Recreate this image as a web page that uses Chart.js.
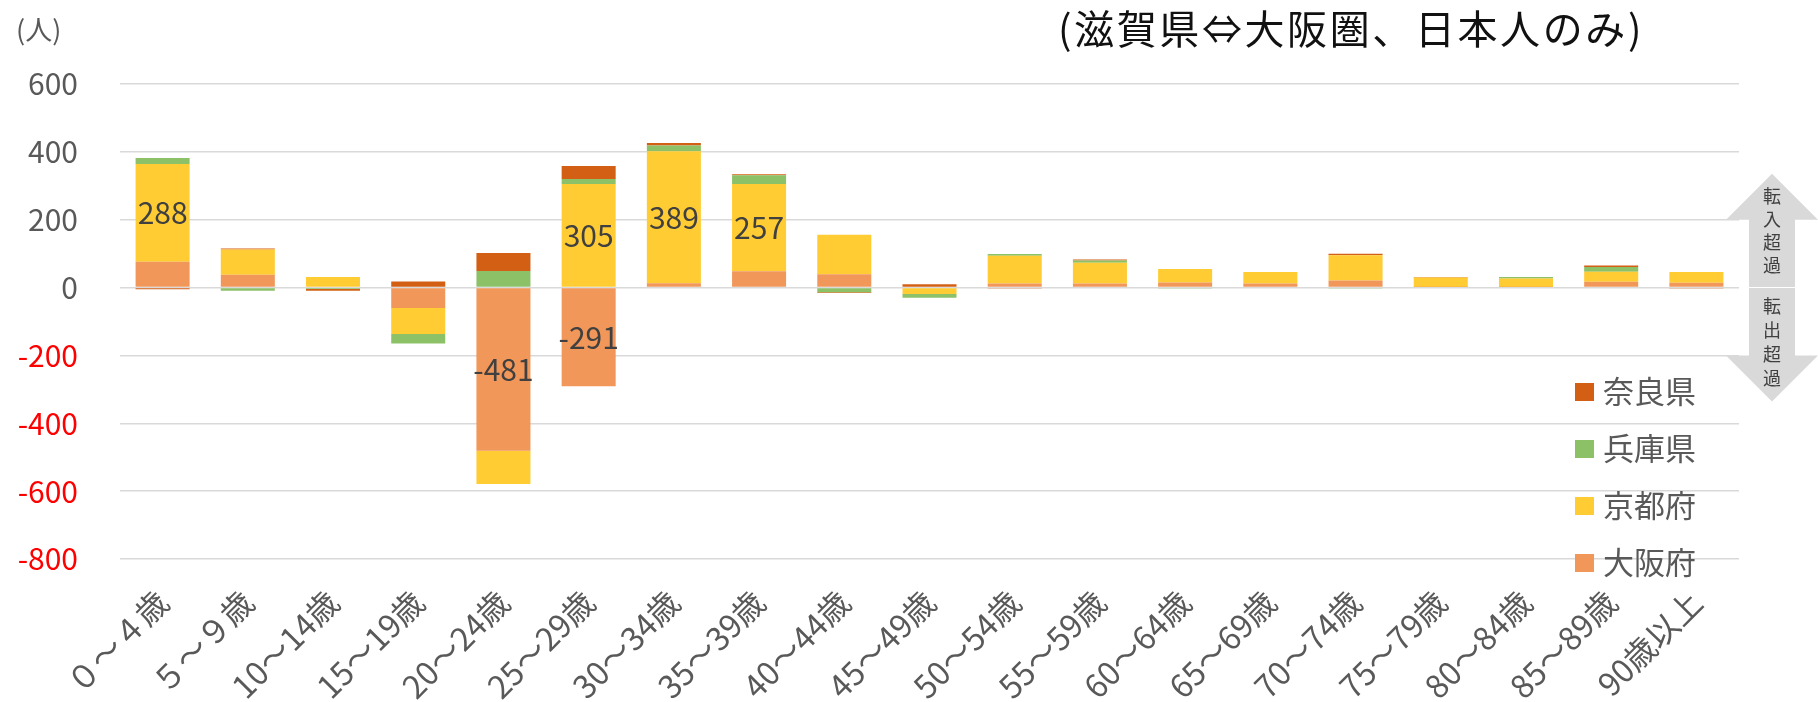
<!DOCTYPE html>
<html lang="ja">
<head>
<meta charset="utf-8">
<title>滋賀県⇔大阪圏 年齢別転入超過数</title>
<script src="https://cdn.jsdelivr.net/npm/chart.js@4.4.1/dist/chart.umd.min.js"></script>
<style>
  html, body { margin: 0; padding: 0; background: #fff; }
  #wrap { width: 1818px; height: 702px; }
</style>
</head>
<body>
<div id="wrap"><canvas id="chart" width="1818" height="702"></canvas></div>
<script>
// age groups (x axis)
const ageGroups = [
  '０～４歳', '５～９歳', '10～14歳', '15～19歳', '20～24歳', '25～29歳',
  '30～34歳', '35～39歳', '40～44歳', '45～49歳', '50～54歳', '55～59歳',
  '60～64歳', '65～69歳', '70～74歳', '75～79歳', '80～84歳', '85～89歳', '90歳以上'
];

// net migration by prefecture (people)
const osaka = [76, 38, 0, -60, -481, -291, 13, 48, 39, -2, 12, 12, 15, 12, 21, 2, 2, 17, 14];
const kyoto = [288, 74, 31, -77, -98, 305, 389, 257, 117, -17, 82, 61, 40, 34, 74, 28, 25, 30, 32];
const hyogo = [18, -9, -4, -28, 49, 15, 17, 26, -14, -11, 5, 7, -3, 0, -3, 0, 4, 14, 0];
const nara  = [-5, 3, -5, 18, 53, 38, 7, 3, -2, 10, -3, 3, 0, 0, 5, 1, 0, 4, -3];

const yTicks = [-800, -600, -400, -200, 0, 200, 400, 600];
const labelMin = 250;   // only the big segments carry a value label

const FONT = "'Noto Sans CJK JP', 'Noto Sans', sans-serif";
Chart.defaults.font.family = FONT;

const colors = {
  osaka: '#F1975A',
  kyoto: '#FFCC33',
  hyogo: '#8CC168',
  nara:  '#D35F14'
};

const overlay = {
  id: 'overlay',
  afterDatasetsDraw(chart) {
    const ctx = chart.ctx;
    ctx.save();
    ctx.font = '30px ' + FONT;
    ctx.fillStyle = '#404040';
    ctx.textAlign = 'center';
    ctx.textBaseline = 'middle';
    chart.data.datasets.forEach((ds, i) => {
      chart.getDatasetMeta(i).data.forEach((bar, j) => {
        const v = ds.data[j];
        if (Math.abs(v) < labelMin) return;
        ctx.fillText(String(v), bar.x, (bar.y + bar.base) / 2);
      });
    });
    ctx.restore();
  },
  afterDraw(chart) {
    const ctx = chart.ctx;
    const y = chart.scales.y;
    ctx.save();

    // title
    ctx.fillStyle = '#111';
    ctx.font = '40px ' + FONT;
    ctx.letterSpacing = '2.6px';
    ctx.textAlign = 'left';
    ctx.textBaseline = 'middle';
    ctx.fillText('(滋賀県⇔大阪圏、日本人のみ)', 1058, 29);
    ctx.letterSpacing = '0px';

    // unit
    ctx.fillStyle = '#595959';
    ctx.font = '27px ' + FONT;
    ctx.fillText('(人)', 16, 30);

    // legend, reversed like Excel
    ctx.font = '31px ' + FONT;
    const items = chart.data.datasets.slice().reverse();
    items.forEach((ds, k) => {
      const cy = 392 + k * 57;
      ctx.fillStyle = ds.backgroundColor;
      ctx.fillRect(1575, cy - 9, 19, 18);
      ctx.fillStyle = '#595959';
      ctx.fillText(ds.label, 1603, cy - 1);
    });

    // in/out arrows on the right
    const cx = 1772, halfHead = 46, halfShaft = 23, headLen = 46;
    const zero = y.getPixelForValue(0);
    const upBase = y.getPixelForValue(200);
    const downBase = y.getPixelForValue(-200);
    ctx.fillStyle = '#D9D9D9';
    ctx.beginPath();
    ctx.moveTo(cx, upBase - headLen);
    ctx.lineTo(cx + halfHead, upBase);
    ctx.lineTo(cx + halfShaft, upBase);
    ctx.lineTo(cx + halfShaft, zero - 0.5);
    ctx.lineTo(cx - halfShaft, zero - 0.5);
    ctx.lineTo(cx - halfShaft, upBase);
    ctx.lineTo(cx - halfHead, upBase);
    ctx.closePath();
    ctx.fill();
    ctx.beginPath();
    ctx.moveTo(cx, downBase + headLen);
    ctx.lineTo(cx + halfHead, downBase);
    ctx.lineTo(cx + halfShaft, downBase);
    ctx.lineTo(cx + halfShaft, zero + 0.5);
    ctx.lineTo(cx - halfShaft, zero + 0.5);
    ctx.lineTo(cx - halfShaft, downBase);
    ctx.lineTo(cx - halfHead, downBase);
    ctx.closePath();
    ctx.fill();

    ctx.fillStyle = '#404040';
    ctx.font = '18px ' + FONT;
    ctx.textAlign = 'center';
    '転入超過'.split('').forEach((ch, k) => ctx.fillText(ch, cx, 196 + k * 23));
    '転出超過'.split('').forEach((ch, k) => ctx.fillText(ch, cx, 306 + k * 24));

    ctx.restore();
  }
};

new Chart(document.getElementById('chart'), {
  type: 'bar',
  data: {
    labels: ageGroups,
    datasets: [
      { label: '大阪府', data: osaka, backgroundColor: colors.osaka },
      { label: '京都府', data: kyoto, backgroundColor: colors.kyoto },
      { label: '兵庫県', data: hyogo, backgroundColor: colors.hyogo },
      { label: '奈良県', data: nara,  backgroundColor: colors.nara }
    ]
  },
  options: {
    responsive: false,
    animation: false,
    devicePixelRatio: 1,
    layout: { padding: { left: 0, right: 79, top: 84, bottom: 0 } },
    datasets: {
      bar: { categoryPercentage: 1, barPercentage: 0.634, borderWidth: 0 }
    },
    plugins: {
      legend: { display: false },
      tooltip: { enabled: false }
    },
    scales: {
      x: {
        stacked: true,
        grid: { display: false, drawTicks: false },
        border: { display: false },
        ticks: {
          autoSkip: false,
          maxRotation: 45,
          minRotation: 45,
          padding: 24,
          color: '#595959',
          font: { size: 32 }
        },
        afterFit: (s) => { s.height = 143; }
      },
      y: {
        stacked: true,
        min: -800,
        max: 600,
        afterBuildTicks: (s) => { s.ticks = yTicks.map(v => ({ value: v })); },
        grid: { color: '#D9D9D9', lineWidth: 1.5, drawTicks: false },
        border: { display: false },
        ticks: {
          padding: 42,
          color: (c) => c.tick.value < 0 ? '#FF0000' : '#595959',
          font: { size: 30 }
        },
        afterFit: (s) => { s.width = 120; }
      }
    }
  },
  plugins: [overlay]
});
</script>
</body>
</html>
